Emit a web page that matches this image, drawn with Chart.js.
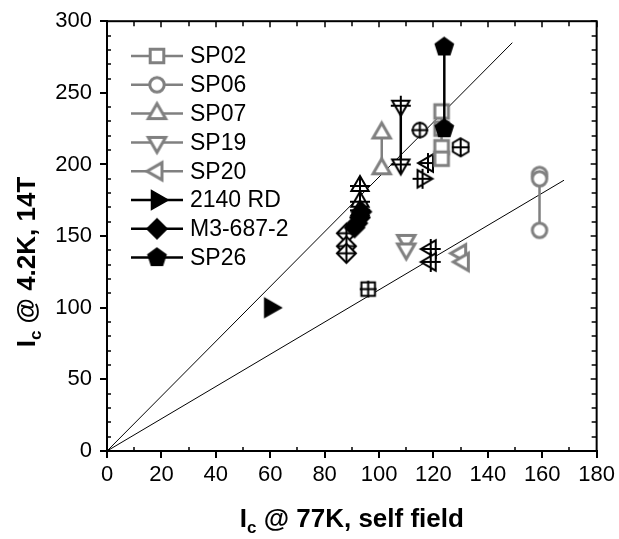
<!DOCTYPE html>
<html>
<head>
<meta charset="utf-8">
<script src="https://cdn.jsdelivr.net/npm/chart.js@4.4.1/dist/chart.umd.min.js"></script>
<style>
  body { margin: 0; background: #fff; }
  canvas { display: block; }
</style>
</head>
<body>
<canvas id="chart" width="619" height="539"></canvas>
<script>
// Tick values for both axes
const xTicks = [0, 20, 40, 60, 80, 100, 120, 140, 160, 180];
const xMinor = [10, 30, 50, 70, 90, 110, 130, 150, 170];
const yTicks = [0, 50, 100, 150, 200, 250, 300];
const yMinor = [10, 20, 30, 40, 60, 70, 80, 90, 110, 120, 130, 140, 160, 170, 180, 190,
                210, 220, 230, 240, 260, 270, 280, 290];

// Legend series (Ic @ 77K self field vs Ic @ 4.2K 14T)
const sp02X = [123, 123, 123, 123];
const sp02Y = [237, 225, 212, 204];
const sp06X = [159, 159, 159];
const sp06Y = [193, 190, 154];
const sp07X = [101, 101];
const sp07Y = [222, 197];
const sp19X = [110, 110];
const sp19Y = [147, 141];
const sp20X = [130, 131];
const sp20Y = [138, 132];
const rd2140X = [60];
const rd2140Y = [100];
const m3X = [91, 92, 93, 93.5];
const m3Y = [156, 159, 163, 167];
const sp26X = [124, 124];
const sp26Y = [282, 225];

// Crossed black markers (not in legend)
const crossSquareX = [96];
const crossSquareY = [113];
const crossCircleX = [115];
const crossCircleY = [224];
const crossHexX = [130];
const crossHexY = [212];
const crossDownX = [108, 108];
const crossDownY = [241, 200];
const crossUpX = [93, 93, 93];
const crossUpY = [185, 174, 168];
const crossDiamondX = [88, 88, 88];
const crossDiamondY = [152, 143, 138];
const crossLeftX = [119, 119];
const crossLeftY = [141, 132];
const crossLeft2X = [118];
const crossLeft2Y = [201];
const crossRightX = [116];
const crossRightY = [190];

// Reference lines through the origin
const upperLineX = [0, 149];
const upperLineY = [0, 285];
const lowerLineX = [0, 168];
const lowerLineY = [0, 189];

const GREY = '#808080';
const FONT = "Arial, 'Liberation Sans', sans-serif";

function shapePath(g, shape, r) {
    const poly = (n, start) => {
        for (let i = 0; i < n; i++) {
            const a = start + i * 2 * Math.PI / n;
            const px = r * Math.cos(a), py = r * Math.sin(a);
            if (i === 0) g.moveTo(px, py); else g.lineTo(px, py);
        }
    };
    if (shape === 'square') { g.rect(-r * 0.8, -r * 0.8, r * 1.6, r * 1.6); return; }
    if (shape === 'circle') { g.arc(0, 0, r * 0.85, 0, Math.PI * 2); return; }
    if (shape === 'up') return poly(3, -Math.PI / 2);
    if (shape === 'down') return poly(3, Math.PI / 2);
    if (shape === 'left') return poly(3, Math.PI);
    if (shape === 'right') return poly(3, 0);
    if (shape === 'diamond') return poly(4, -Math.PI / 2);
    if (shape === 'pentagon') return poly(5, -Math.PI / 2);
    if (shape === 'hexagon') return poly(6, -Math.PI / 2);
}

// Build a small canvas used as a Chart.js pointStyle
function makeMarker(shape, color, filled, crossed, r, lw) {
    const size = Math.ceil(2 * r + lw + 4);
    const c = document.createElement('canvas');
    c.width = size; c.height = size;
    const g = c.getContext('2d');
    g.translate(size / 2, size / 2);
    g.beginPath();
    shapePath(g, shape, r);
    g.closePath();
    g.fillStyle = filled ? color : '#fff';
    g.fill();
    g.lineWidth = lw;
    g.strokeStyle = color;
    g.stroke();
    if (crossed) {
        g.beginPath();
        g.moveTo(-r, 0); g.lineTo(r, 0);
        g.moveTo(0, -r); g.lineTo(0, r);
        g.stroke();
    }
    return c;
}

function pts(xs, ys) {
    return xs.map((v, i) => ({ x: v, y: ys[i] }));
}

function series(label, xs, ys, marker, color, legend) {
    return {
        label: label,
        data: pts(xs, ys),
        pointStyle: marker,
        pointRadius: 8,
        borderColor: color,
        backgroundColor: color,
        borderWidth: 2.5,
        showLine: true,
        inLegend: legend
    };
}

const datasets = [
    series('SP26', sp26X, sp26Y, makeMarker('pentagon', '#000', true, false, 9.5, 1.5), '#000', true),
    series('2140 RD', rd2140X, rd2140Y, makeMarker('right', '#000', true, false, 11, 1.5), '#000', true),
    series('M3-687-2', m3X, m3Y, makeMarker('diamond', '#000', true, false, 10, 1.5), '#000', true),
    series('SP02', sp02X, sp02Y, makeMarker('square', GREY, false, false, 8.5, 3), GREY, true),
    series('SP06', sp06X, sp06Y, makeMarker('circle', GREY, false, false, 8.5, 3), GREY, true),
    series('SP07', sp07X, sp07Y, makeMarker('up', GREY, false, false, 10, 3), GREY, true),
    series('SP19', sp19X, sp19Y, makeMarker('down', GREY, false, false, 10, 3), GREY, true),
    series('SP20', sp20X, sp20Y, makeMarker('left', GREY, false, false, 10, 3), GREY, true),
    series('x-square', crossSquareX, crossSquareY, makeMarker('square', '#000', false, true, 8.5, 2), '#000', false),
    series('x-circle', crossCircleX, crossCircleY, makeMarker('circle', '#000', false, true, 8.5, 2), '#000', false),
    series('x-hex', crossHexX, crossHexY, makeMarker('hexagon', '#000', false, true, 9, 2), '#000', false),
    series('x-down', crossDownX, crossDownY, makeMarker('down', '#000', false, true, 10, 2), '#000', false),
    series('x-up', crossUpX, crossUpY, makeMarker('up', '#000', false, true, 10, 2), '#000', false),
    series('x-diamond', crossDiamondX, crossDiamondY, makeMarker('diamond', '#000', false, true, 9.5, 2), '#000', false),
    series('x-left', crossLeftX, crossLeftY, makeMarker('left', '#000', false, true, 10, 2), '#000', false),
    series('x-left2', crossLeft2X, crossLeft2Y, makeMarker('left', '#000', false, true, 10, 2), '#000', false),
    series('x-right', crossRightX, crossRightY, makeMarker('right', '#000', false, true, 10, 2), '#000', false),
    {
        label: 'upper', data: pts(upperLineX, upperLineY), showLine: true,
        pointRadius: 0, borderColor: '#000', borderWidth: 1, inLegend: false
    },
    {
        label: 'lower', data: pts(lowerLineX, lowerLineY), showLine: true,
        pointRadius: 0, borderColor: '#000', borderWidth: 1, inLegend: false
    }
];

// Box frame, minor ticks and mirrored inner ticks on top/right
const framePlugin = {
    id: 'frame',
    afterDraw(chart) {
        const { ctx, chartArea: a, scales: { x, y } } = chart;
        ctx.save();
        ctx.strokeStyle = '#000';
        ctx.lineWidth = 2;
        ctx.strokeRect(a.left, a.top, a.right - a.left, a.bottom - a.top);
        ctx.lineWidth = 1.5;
        ctx.beginPath();
        xMinor.forEach(v => {
            const px = Math.round(x.getPixelForValue(v));
            ctx.moveTo(px, a.bottom); ctx.lineTo(px, a.bottom - 4);
            ctx.moveTo(px, a.top); ctx.lineTo(px, a.top + 5);
        });
        xTicks.forEach(v => {
            const px = Math.round(x.getPixelForValue(v));
            ctx.moveTo(px, a.top); ctx.lineTo(px, a.top + 6);
        });
        yMinor.forEach(v => {
            const py = Math.round(y.getPixelForValue(v));
            ctx.moveTo(a.left, py); ctx.lineTo(a.left + 4, py);
            ctx.moveTo(a.right, py); ctx.lineTo(a.right - 5, py);
        });
        yTicks.forEach(v => {
            const py = Math.round(y.getPixelForValue(v));
            ctx.moveTo(a.right, py); ctx.lineTo(a.right - 6, py);
        });
        ctx.stroke();
        ctx.restore();
    }
};

// Axis titles with subscript c
function drawTitle(ctx, parts) {
    let w = 0;
    parts.forEach(p => { ctx.font = p.font; w += ctx.measureText(p.text).width; });
    let cx = -w / 2;
    parts.forEach(p => {
        ctx.font = p.font;
        ctx.fillText(p.text, cx, p.dy);
        cx += ctx.measureText(p.text).width;
    });
}

const titlePlugin = {
    id: 'titles',
    afterDraw(chart) {
        const { ctx, chartArea: a } = chart;
        ctx.save();
        ctx.fillStyle = '#000';
        ctx.textBaseline = 'alphabetic';
        ctx.textAlign = 'left';
        const big = 'bold 26px ' + FONT;
        const small = 'bold 17px ' + FONT;
        ctx.translate((a.left + a.right) / 2, 527);
        drawTitle(ctx, [
            { text: 'I', font: big, dy: 0 },
            { text: 'c', font: small, dy: 6 },
            { text: ' @ 77K, self field', font: big, dy: 0 }
        ]);
        ctx.restore();
        ctx.save();
        ctx.fillStyle = '#000';
        ctx.textBaseline = 'alphabetic';
        ctx.translate(35, 262);
        ctx.rotate(-Math.PI / 2);
        drawTitle(ctx, [
            { text: 'I', font: big, dy: 0 },
            { text: 'c', font: small, dy: 6 },
            { text: ' @ 4.2K, 14T', font: big, dy: 0 }
        ]);
        ctx.restore();
    }
};

// Legend inside the plot: line - marker - line, then label
const legendPlugin = {
    id: 'innerLegend',
    afterDraw(chart) {
        const ctx = chart.ctx;
        const items = chart.data.datasets.filter(d => d.inLegend);
        const order = ['SP02', 'SP06', 'SP07', 'SP19', 'SP20', '2140 RD', 'M3-687-2', 'SP26'];
        ctx.save();
        ctx.font = '23px ' + FONT;
        ctx.textBaseline = 'middle';
        order.forEach((name, i) => {
            const d = items.find(it => it.label === name);
            const yy = 56 + i * 28.8;
            ctx.strokeStyle = d.borderColor;
            ctx.lineWidth = 2.5;
            ctx.beginPath();
            ctx.moveTo(131, yy); ctx.lineTo(183, yy);
            ctx.stroke();
            const m = d.pointStyle;
            ctx.drawImage(m, 157 - m.width / 2, yy - m.height / 2);
            ctx.fillStyle = '#000';
            ctx.fillText(name, 190, yy + 1);
        });
        ctx.restore();
    }
};

new Chart(document.getElementById('chart'), {
    type: 'scatter',
    data: { datasets: datasets },
    options: {
        responsive: false,
        animation: false,
        events: [],
        layout: { padding: { top: 18, right: 20, left: 0, bottom: 0 } },
        plugins: { legend: { display: false }, tooltip: { enabled: false } },
        scales: {
            x: {
                type: 'linear', min: 0, max: 180,
                afterBuildTicks: s => { s.ticks = xTicks.map(v => ({ value: v })); },
                afterFit: s => { s.height = 88; },
                grid: { drawOnChartArea: false, tickLength: 7, color: '#000', lineWidth: 2 },
                border: { display: true, color: '#000', width: 2 },
                ticks: { color: '#000', font: { family: FONT, size: 22 }, padding: 4, maxRotation: 0 }
            },
            y: {
                type: 'linear', min: 0, max: 300,
                afterBuildTicks: s => { s.ticks = yTicks.map(v => ({ value: v })); },
                afterFit: s => { s.width = 107; },
                grid: { drawOnChartArea: false, tickLength: 7, color: '#000', lineWidth: 2 },
                border: { display: true, color: '#000', width: 2 },
                ticks: { color: '#000', font: { family: FONT, size: 22 }, padding: 8 }
            }
        }
    },
    plugins: [framePlugin, titlePlugin, legendPlugin]
});
</script>
</body>
</html>
